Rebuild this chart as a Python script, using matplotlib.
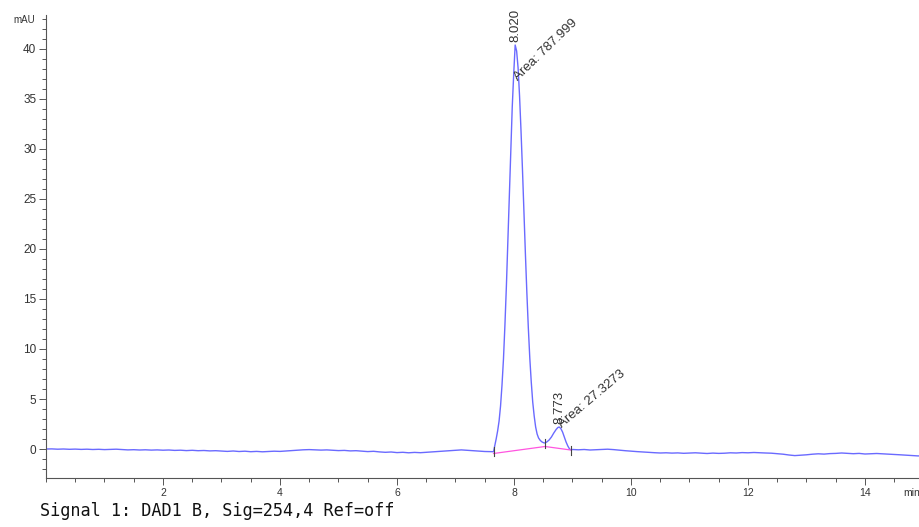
import matplotlib
matplotlib.use("Agg")
import matplotlib.pyplot as plt
from matplotlib.ticker import MultipleLocator
import numpy as np

# Signal before the peaks, one reading every 0.1 min from 0.0 to 7.6
pre_values = [0.00, 0.01, -0.02, 0.00, -0.03, -0.01, -0.04, -0.02, -0.05, -0.03,
              -0.06, -0.04, -0.02, -0.06, -0.09, -0.07, -0.10, -0.08, -0.11, -0.09,
              -0.12, -0.10, -0.14, -0.12, -0.16, -0.13, -0.17, -0.15, -0.19, -0.17,
              -0.21, -0.24, -0.20, -0.25, -0.22, -0.27, -0.24, -0.28, -0.25, -0.22,
              -0.24, -0.20, -0.16, -0.12, -0.08, -0.06, -0.08, -0.11, -0.09, -0.13,
              -0.16, -0.14, -0.19, -0.17, -0.22, -0.26, -0.23, -0.29, -0.33, -0.30,
              -0.36, -0.33, -0.38, -0.34, -0.37, -0.33, -0.30, -0.26, -0.22, -0.17,
              -0.12, -0.09, -0.13, -0.18, -0.22, -0.25, -0.27]
pre_times = np.round(np.linspace(0.0, 7.6, len(pre_values)), 2)

# The two peaks
peak_times = [7.65, 7.67, 7.695, 7.72, 7.745, 7.77, 7.795, 7.82, 7.845, 7.87,
              7.895, 7.92, 7.945, 7.97, 7.995, 8.02, 8.045, 8.07, 8.095, 8.12,
              8.145, 8.17, 8.195, 8.22, 8.245, 8.27, 8.295, 8.32, 8.345, 8.37,
              8.395, 8.42, 8.45, 8.48, 8.51, 8.53, 8.56, 8.60, 8.64, 8.68,
              8.72, 8.75, 8.773, 8.80, 8.83, 8.86, 8.89, 8.92, 8.95, 8.98, 9.0]
peak_values = [-0.27, 0.30, 1.0, 1.8, 2.8, 4.3, 6.4, 9.0, 12.4, 16.3,
               20.8, 25.4, 30.1, 34.2, 37.5, 40.4, 39.8, 38.1, 35.3, 31.8,
               27.9, 23.6, 19.5, 15.6, 12.1, 9.1, 6.7, 4.7, 3.3, 2.2,
               1.5, 1.1, 0.85, 0.70, 0.62, 0.60, 0.70, 0.90, 1.2, 1.6,
               1.95, 2.15, 2.2, 2.05, 1.7, 1.2, 0.70, 0.30, 0.0, -0.10, -0.05]

# Signal after the peaks, every 0.1 min from 9.1 to 15.0
post_values = [-0.08, -0.05, -0.10, -0.07, -0.04, -0.02, -0.06, -0.12, -0.17, -0.22,
               -0.26, -0.30, -0.33, -0.37, -0.40, -0.38, -0.41, -0.39, -0.43, -0.40,
               -0.38, -0.42, -0.45, -0.41, -0.44, -0.42, -0.38, -0.40, -0.36, -0.38,
               -0.35, -0.38, -0.40, -0.42, -0.47, -0.52, -0.60, -0.66, -0.62, -0.58,
               -0.52, -0.48, -0.51, -0.46, -0.44, -0.40, -0.43, -0.47, -0.44, -0.50,
               -0.47, -0.45, -0.48, -0.51, -0.54, -0.58, -0.62, -0.66, -0.69, -0.70]
post_times = np.round(np.linspace(9.1, 15.0, len(post_values)), 2)

# Integration baseline drawn under the peaks
base_times = [7.65, 8.53, 8.97]
base_values = [-0.45, 0.25, -0.10]

# Peak table
rt_labels = ["8.020", "8.773"]
rt_values = [8.020, 8.773]
rt_heights = [40.4, 2.2]
areas = ["787.999", "27.3273"]

t = np.concatenate([pre_times, peak_times, post_times])
y = np.concatenate([pre_values, peak_values, post_values])

plt.rcParams["font.family"] = ["Liberation Sans", "DejaVu Sans"]
fig = plt.figure(figsize=(9.2, 5.27), dpi=100)
ax = fig.add_axes([46 / 920, 1 - 478 / 527, 1 - 46 / 920, (478 - 15) / 527])

ax.plot(t, y, color="#6a6aff", lw=1.0)
ax.plot(base_times, base_values, color="#ff55e0", lw=0.9)

# small tick marks where integration starts and stops
for bt, bv in zip(base_times, [-0.2, 0.55, -0.15]):
    ax.plot([bt, bt], [bv - 0.45, bv + 0.45], color="#444444", lw=0.8)

# retention times and areas
txt = "#333333"
for rt, lab, h in zip(rt_values, rt_labels, rt_heights):
    ax.text(rt, h + 0.3, lab, rotation=90, ha="center", va="bottom",
            fontsize=9.5, color=txt)
ax.text(8.10, 36.6, "Area: " + areas[0], rotation=44, ha="left", va="bottom",
        rotation_mode="anchor", fontsize=9.5, color=txt)
ax.text(8.86, 1.9, "Area: " + areas[1], rotation=40, ha="left", va="bottom",
        rotation_mode="anchor", fontsize=9.5, color=txt)

ax.set_xlim(0, (920 - 46) / 58.5)
ax.set_ylim(-2.9, 43.4)

ax.spines["top"].set_visible(False)
ax.spines["right"].set_visible(False)
for s in ("left", "bottom"):
    ax.spines[s].set_color("#555555")
    ax.spines[s].set_linewidth(0.8)

ax.xaxis.set_major_locator(MultipleLocator(2))
ax.xaxis.set_minor_locator(MultipleLocator(0.5))
ax.yaxis.set_major_locator(MultipleLocator(5))
ax.yaxis.set_minor_locator(MultipleLocator(1))
ax.set_xticks([2, 4, 6, 8, 10, 12, 14])
ax.tick_params(axis="both", which="major", length=5, width=0.7, color="#555555",
               labelcolor="#333333", pad=2)
ax.tick_params(axis="both", which="minor", length=3, width=0.7, color="#555555")
ax.tick_params(axis="x", labelsize=7.5)
ax.tick_params(axis="y", labelsize=8.5)

ax.text(-0.19, 42.9, "mAU", ha="right", va="center", fontsize=7, color="#333333")
ax.text(14.65, -3.85, "min", ha="left", va="top", fontsize=7.5, color="#333333",
        clip_on=False)

fig.text(40 / 920, 1 - 511 / 527, "Signal 1: DAD1 B, Sig=254,4 Ref=off",
         family="DejaVu Sans Mono", fontsize=12.2, va="center", ha="left",
         color="#111111")

fig.savefig("out.png", dpi=100)
